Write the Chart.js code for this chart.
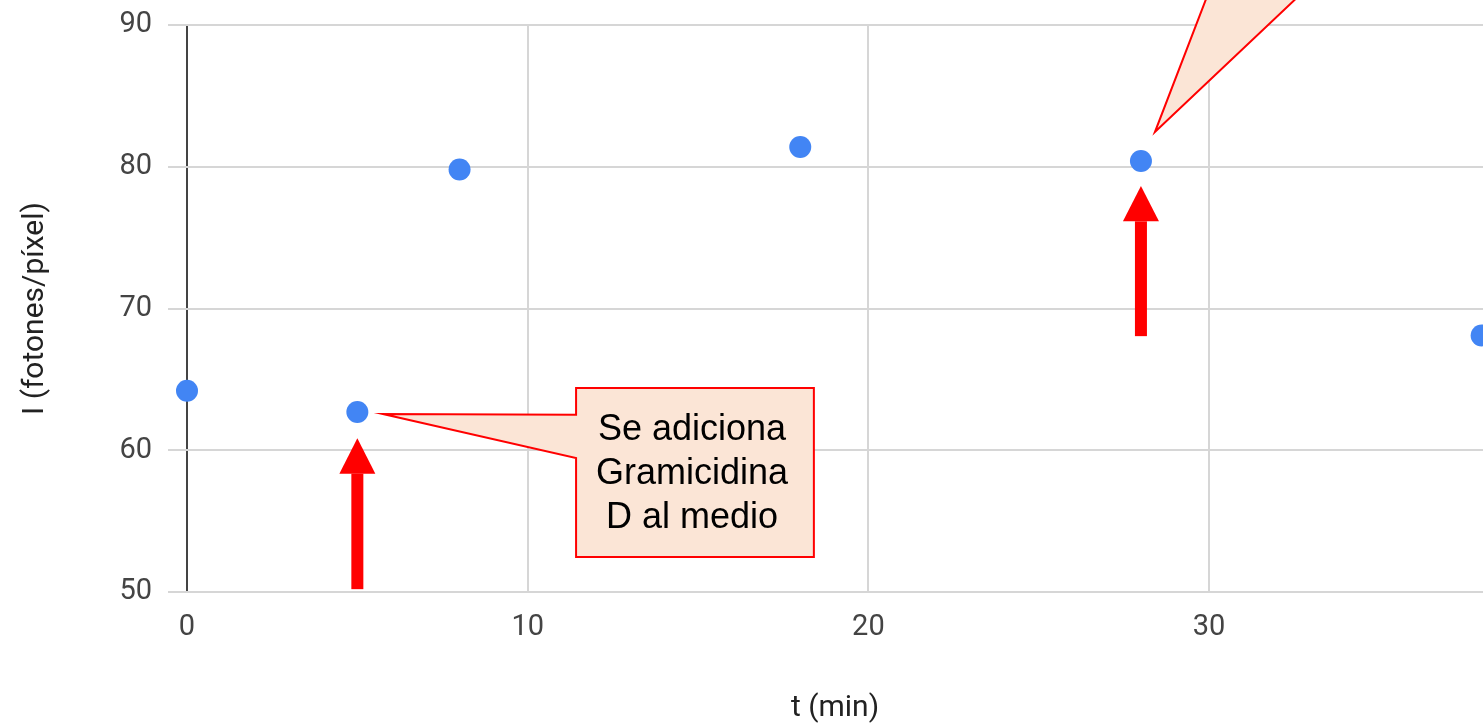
<!DOCTYPE html>
<html>
<head>
<meta charset="utf-8">
<script src="https://cdn.jsdelivr.net/npm/chart.js@4"></script>
<style>
  body { margin: 0; background: #fff; }
  #wrap { width: 1483px; height: 726px; }
</style>
</head>
<body>
<div id="wrap"><canvas id="myChart"></canvas></div>
<script>
  // data
  const tMin = [0, 5, 8, 18, 28, 38];
  const intensity = [64.2, 62.7, 79.8, 81.4, 80.4, 68.1];
  const xTicks = [0, 10, 20, 30];
  const yTicks = [50, 60, 70, 80, 90];
  const calloutText = ["Se adiciona", "Gramicidina", "D al medio"];

  // annotations, in data units
  const arrows = [
    { x: 5, tail: 50.2, base: 58.35, tip: 60.85 },
    { x: 28, tail: 68.05, base: 76.15, tip: 78.65 },
  ];
  const callout = {
    x0: 11.42, x1: 18.4, y0: 64.39, y1: 52.47,
    tipX: 5.75, tipY: 62.56, joinTop: 62.5, joinBottom: 59.45,
  };
  const topPointer = { tipX: 28.41, tipY: 82.45, leftX: 30.13, rightX: 33.14, y: 93.2 };

  const annotations = {
    id: "annotations",
    afterDatasetsDraw(chart) {
      const ctx = chart.ctx;
      const xs = chart.scales.x;
      const ys = chart.scales.y;
      const px = (v) => xs.getPixelForValue(v);
      const py = (v) => ys.getPixelForValue(v);
      ctx.save();

      // red arrows
      ctx.fillStyle = "#ff0000";
      arrows.forEach((a) => {
        const x = px(a.x);
        ctx.fillRect(x - 6, py(a.base), 12, py(a.tail) - py(a.base));
        ctx.beginPath();
        ctx.moveTo(x, py(a.tip));
        ctx.lineTo(x + 18, py(a.base));
        ctx.lineTo(x - 18, py(a.base));
        ctx.closePath();
        ctx.fill();
      });

      // callout box with pointer
      ctx.fillStyle = "#fbe5d6";
      ctx.strokeStyle = "#ff0000";
      ctx.lineWidth = 2;
      ctx.beginPath();
      ctx.moveTo(px(callout.x0), py(callout.y0));
      ctx.lineTo(px(callout.x1), py(callout.y0));
      ctx.lineTo(px(callout.x1), py(callout.y1));
      ctx.lineTo(px(callout.x0), py(callout.y1));
      ctx.lineTo(px(callout.x0), py(callout.joinBottom));
      ctx.lineTo(px(callout.tipX), py(callout.tipY));
      ctx.lineTo(px(callout.x0), py(callout.joinTop));
      ctx.closePath();
      ctx.fill();
      ctx.stroke();

      ctx.fillStyle = "#000";
      ctx.font = "36px 'Liberation Sans', Arial, sans-serif";
      ctx.textAlign = "center";
      ctx.textBaseline = "middle";
      const cx = (px(callout.x0) + px(callout.x1)) / 2 - 3;
      const cy = (py(callout.y0) + py(callout.y1)) / 2;
      calloutText.forEach((line, i) => {
        ctx.fillText(line, cx, cy + (i - 1) * 44 + 2);
      });

      // pointer of the second callout (its box is above the picture)
      ctx.fillStyle = "#fbe5d6";
      ctx.beginPath();
      ctx.moveTo(px(topPointer.leftX), py(topPointer.y));
      ctx.lineTo(px(topPointer.tipX), py(topPointer.tipY));
      ctx.lineTo(px(topPointer.rightX), py(topPointer.y));
      ctx.closePath();
      ctx.fill();
      ctx.beginPath();
      ctx.moveTo(px(topPointer.leftX), py(topPointer.y));
      ctx.lineTo(px(topPointer.tipX), py(topPointer.tipY));
      ctx.lineTo(px(topPointer.rightX), py(topPointer.y));
      ctx.stroke();

      ctx.restore();
    },
  };

  Chart.defaults.font.family = "Roboto, Arial, sans-serif";

  const config = {
    type: "scatter",
    data: {
      datasets: [
        {
          data: tMin.map((t, i) => ({ x: t, y: intensity[i] })),
          backgroundColor: "#4285f4",
          borderWidth: 0,
          pointRadius: 11,
          pointHoverRadius: 11,
          clip: false,
        },
      ],
    },
    options: {
      responsive: true,
      maintainAspectRatio: false,
      animation: false,
      layout: { autoPadding: false, padding: { top: 25, right: 0, left: 0, bottom: 0 } },
      plugins: {
        legend: { display: false },
        tooltip: { enabled: false },
      },
      scales: {
        x: {
          type: "linear",
          min: 0,
          max: 38.04,
          afterBuildTicks: (scale) => {
            scale.ticks = xTicks.map((v) => ({ value: v }));
          },
          afterFit: (scale) => {
            scale.height = 134;
          },
          border: { display: false },
          grid: {
            drawTicks: false,
            lineWidth: 2,
            color: (c) => (c.tick && c.tick.value === 0 ? "#444" : "#d6d6d6"),
          },
          ticks: {
            padding: 18,
            color: "#444",
            font: { size: 29 },
          },
          title: {
            display: true,
            text: "t (min)",
            color: "#222",
            font: { size: 30 },
            padding: { top: 0, bottom: 0 },
          },
        },
        y: {
          min: 50,
          max: 90,
          afterBuildTicks: (scale) => {
            scale.ticks = yTicks.map((v) => ({ value: v }));
          },
          afterFit: (scale) => {
            scale.width = 187;
            // don't let the tick padding push the plot down
            scale.paddingTop = 0;
            scale.paddingBottom = 0;
          },
          border: { display: false },
          grid: {
            lineWidth: 2,
            color: "#d6d6d6",
            tickLength: 19,
          },
          ticks: {
            padding: 16,
            color: "#444",
            font: { size: 29 },
          },
          title: {
            display: true,
            text: "I (fotones/píxel)",
            color: "#222",
            font: { size: 30 },
            padding: { top: 17, bottom: 0 },
          },
        },
      },
    },
    plugins: [annotations],
  };

  var myChart = new Chart(document.getElementById("myChart"), config);
</script>
</body>
</html>
